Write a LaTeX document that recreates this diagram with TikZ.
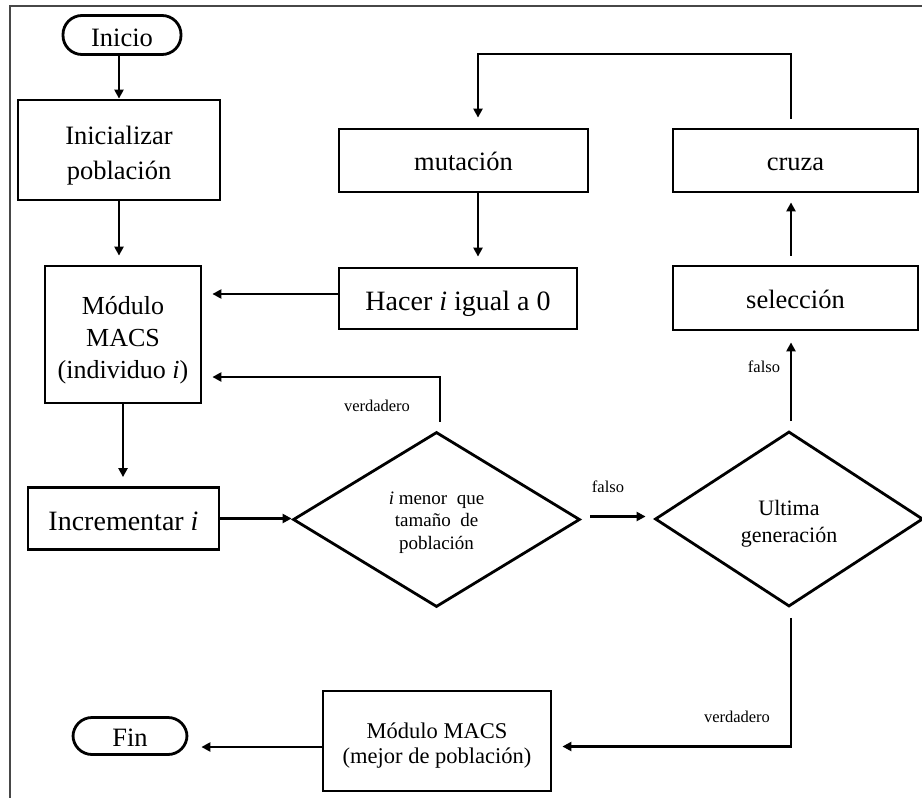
\documentclass[tikz,border=0pt]{standalone}
\usepackage{fontspec}
\setmainfont{Liberation Serif}
\usetikzlibrary{arrows.meta,shapes.geometric}

\tikzset{
  box/.style={draw, line width=2.8pt, rectangle, inner sep=0pt, align=center},
  term/.style={box, rounded corners=19pt},
  decision/.style={draw, line width=2.8pt, diamond, inner sep=0pt},
  txt/.style={align=center, inner sep=0pt},
  arr/.style={line width=2.8pt, -{Triangle[length=9pt,width=9pt]}},
  lbl/.style={inner sep=0pt, font=\fontsize{16.5}{19}\selectfont},
  big/.style={font=\fontsize{26.5}{33}\selectfont},
  oneline/.style={text height=25pt, text depth=5pt},
}

\begin{document}
\begin{tikzpicture}[x=1pt,y=-1pt]
\useasboundingbox (0,0) rectangle (922,798);

% partial frame
\draw[line width=2pt, color=black!72] (10,798) -- (10,6) -- (922,6);

% left column
\node[term, big, text height=27pt, text depth=4pt, minimum width=118pt, minimum height=39pt] (inicio) at (122,35) {Inicio};
\node[box, minimum width=202pt, minimum height=100pt] (inicializar) at (119,150) {};
\node[txt, font=\fontsize{26.5}{35}\selectfont] (inicializart) at (119,156) {Inicializar\\población};
\node[box, minimum width=156pt, minimum height=137pt] (modulo) at (123,334.5) {};
\node[txt, font=\fontsize{26}{32}\selectfont] (modulot) at (123,340.5) {Módulo\\MACS\\(individuo \textit{i})};
\node[box, text height=27pt, text depth=4pt, minimum width=191pt, minimum height=62pt, font=\fontsize{28}{33}\selectfont] (incr) at (123.5,518.5) {Incrementar \textit{i}};

% decisions
\node[decision, minimum width=287pt, minimum height=175pt] (d1) at (436.5,519.5) {};
\node[txt, font=\fontsize{19}{22.5}\selectfont] (d1t) at (436.5,522.5) {\textit{i} menor\ \ que\\tamaño\ \ de\\población};
\node[decision, minimum width=268pt, minimum height=175pt] (d2) at (789,519) {};
\node[txt, font=\fontsize{22}{27}\selectfont] (d2t) at (789,524) {Ultima\\generación};

% genetic operators
\node[box, big, oneline, minimum width=249pt, minimum height=63pt] (mutacion) at (463.5,160.5) {mutación};
\node[box, big, oneline, minimum width=245pt, minimum height=63pt] (cruza) at (795.5,160.5) {cruza};
\node[box, big, oneline, minimum width=245pt, minimum height=64pt] (seleccion) at (795.5,298) {selección};
\node[box, text height=27pt, text depth=4pt, minimum width=238pt, minimum height=61pt, font=\fontsize{28}{33}\selectfont] (hacer) at (458,298.5) {Hacer \textit{i} igual a 0};

% end
\node[box, minimum width=228pt, minimum height=100pt] (mejor) at (437,741) {};
\node[txt, font=\fontsize{22.5}{25}\selectfont] (mejort) at (437,746) {Módulo MACS\\(mejor de población)};
\node[term, big, oneline, minimum width=114pt, minimum height=37pt] (fin) at (130,736) {Fin};

% corner of the loop back to mutation
\coordinate (loopL) at (478,54);

% connectors
\draw[arr] (inicializar.north |- inicio.south) -- (inicializar.north);
\draw[arr, shorten >=9pt] (inicializar.south) -- (inicializar.south |- modulo.north);
\draw[arr, shorten >=10pt] ([yshift=4.5pt]hacer.west) -- ([yshift=4.5pt]hacer.west -| modulo.east);
\draw[arr, shorten <=9pt, shorten >=10pt] ([xshift=3.5pt]d1.north) |- ([yshift=-42.5pt]modulo.east);
\draw[arr, shorten >=9pt] (modulo.south) -- (modulo.south |- incr.north);
\draw[arr] (incr.east) -- (incr.east -| d1.west);
\draw[arr, shorten <=9pt, shorten >=8pt] ([yshift=3pt]d1.east) -- ([yshift=3pt]d1.east -| d2.west);
\draw[arr, shorten <=9pt, shorten >=11pt] ([xshift=2pt]d2.north) -- ([xshift=2pt]d2.north |- seleccion.south);
\draw[arr, shorten <=9pt, shorten >=9pt] ([xshift=-4.5pt]seleccion.north) -- ([xshift=-4.5pt]cruza.south);
\draw[arr, shorten <=9pt, shorten >=10pt] ([xshift=-4.5pt]cruza.north) |- (loopL) -- (loopL |- mutacion.north);
\draw[arr, shorten >=10pt] (loopL |- mutacion.south) -- (loopL |- hacer.north);
\draw[arr, shorten <=10pt, shorten >=10pt] ([xshift=2pt]d2.south) |- ([yshift=-5.5pt]mejor.east);
\draw[arr, shorten >=13pt] ([yshift=-6pt]mejor.west) -- ([yshift=-6pt]mejor.west -| fin.east);

% branch labels
\node[lbl] (lv1) at (377,406) {verdadero};
\node[lbl] (lf1) at (608,487) {falso};
\node[lbl] (lf2) at (764,367) {falso};
\node[lbl] (lv2) at (737,717) {verdadero};
\end{tikzpicture}
\end{document}
